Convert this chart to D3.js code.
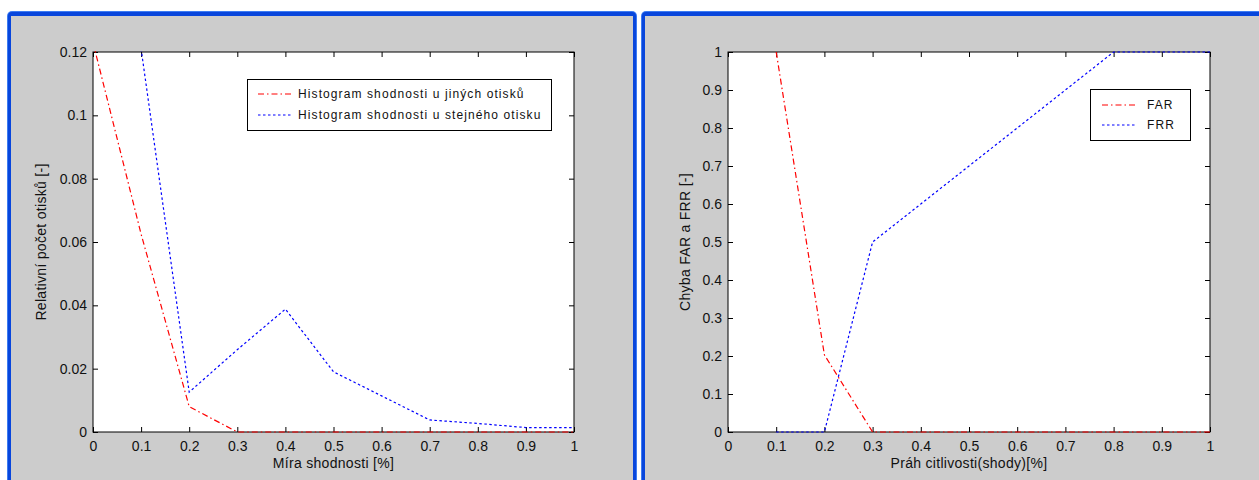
<!DOCTYPE html>
<html>
<head>
<meta charset="utf-8">
<script src="https://cdn.jsdelivr.net/npm/d3@7"></script>
<style>
  body { margin: 0; background: #fff; }
  svg { display: block; font-family: "Liberation Sans", Arial, sans-serif; }
  .tick text { font-size: 14px; fill: #111; }
  .axis-label { font-size: 14px; fill: #111; letter-spacing: 0.3px; }
  .legend text { font-size: 12px; fill: #111; letter-spacing: 1.1px; }
</style>
</head>
<body>
<svg id="chart" width="1259" height="480"></svg>
<script>
/* ---------- data ---------- */
const xTicks = [0, 0.1, 0.2, 0.3, 0.4, 0.5, 0.6, 0.7, 0.8, 0.9, 1];
const histTicksY = [0, 0.02, 0.04, 0.06, 0.08, 0.1, 0.12];
const errTicksY = [0, 0.1, 0.2, 0.3, 0.4, 0.5, 0.6, 0.7, 0.8, 0.9, 1];

// left: similarity histograms
const otherX = [0, 0.1, 0.2, 0.3, 0.4, 0.5, 0.6, 0.7, 0.8, 0.9, 1];
const otherPrints = [0.123, 0.0625, 0.008, 0, 0, 0, 0, 0, 0, 0, 0];
const sameX = [0.1, 0.2, 0.3, 0.4, 0.5, 0.6, 0.7, 0.8, 0.9, 1];
const samePrint = [0.121, 0.0126, 0.026, 0.0388, 0.019, 0.0114, 0.0038, 0.0027, 0.0014, 0.0014];

// right: error rates vs. threshold
const thresholdX = [0.1, 0.2, 0.3, 0.4, 0.5, 0.6, 0.7, 0.8, 0.9, 1];
const farValues = [1, 0.203, 0, 0, 0, 0, 0, 0, 0, 0];
const frrValues = [0, 0, 0.5, 0.6, 0.7, 0.8, 0.9, 1, 1, 1];

const RED_DASH = "6,3,1.5,3";
const BLUE_DOT = "2.5,2.5";

const svg = d3.select("#chart");

/* ---------- window frames ---------- */
function drawFrame(x, w) {
  const g = svg.append("g");
  g.append("rect").attr("x", x).attr("y", 11).attr("width", w).attr("height", 480)
    .attr("rx", 5).attr("fill", "#3d7cf2");
  g.append("rect").attr("x", x + 1).attr("y", 12).attr("width", w - 2).attr("height", 480)
    .attr("rx", 4).attr("fill", "#0846dc");
  g.append("rect").attr("x", x + 4).attr("y", 16).attr("width", w - 8).attr("height", 480)
    .attr("fill", "#cccccc");
}
drawFrame(7, 630);
drawFrame(641, 640);

/* ---------- one MATLAB-like axes ---------- */
function drawPanel(o) {
  const x = d3.scaleLinear().domain([0, 1]).range([o.x0, o.x1]);
  const y = d3.scaleLinear().domain([0, o.yMax]).range([o.y1, o.y0]);
  const g = svg.append("g");
  const fmt = (d) => String(+d.toFixed(2));

  g.append("rect")
    .attr("x", o.x0).attr("y", o.y0)
    .attr("width", o.x1 - o.x0).attr("height", o.y1 - o.y0)
    .attr("fill", "#fff");

  const axes = [
    [d3.axisBottom(x).tickValues(xTicks).tickFormat(fmt).tickPadding(9), `translate(0,${o.y1})`],
    [d3.axisTop(x).tickValues(xTicks).tickFormat(""), `translate(0,${o.y0})`],
    [d3.axisLeft(y).tickValues(o.yTicks).tickFormat(fmt).tickPadding(6), `translate(${o.x0},0)`],
    [d3.axisRight(y).tickValues(o.yTicks).tickFormat(""), `translate(${o.x1},0)`],
  ];
  axes.forEach(([axis, tr]) => {
    const a = g.append("g").attr("transform", tr)
      .call(axis.tickSizeInner(-5).tickSizeOuter(0));
    a.select(".domain").remove();
    a.selectAll("line").attr("stroke", "#000");
    a.selectAll("text").attr("font-size", null).attr("font-family", null);
  });

  g.append("rect")
    .attr("x", o.x0).attr("y", o.y0)
    .attr("width", o.x1 - o.x0).attr("height", o.y1 - o.y0)
    .attr("fill", "none").attr("stroke", "#000");

  const clipId = "clip" + o.x0;
  svg.append("clipPath").attr("id", clipId).append("rect")
    .attr("x", o.x0 - 1).attr("y", o.y0 - 1)
    .attr("width", o.x1 - o.x0 + 2).attr("height", o.y1 - o.y0 + 2);

  const line = d3.line().x((d) => x(d[0])).y((d) => y(d[1]));
  o.series.forEach((s) => {
    g.append("path")
      .datum(d3.zip(s.x, s.y))
      .attr("clip-path", `url(#${clipId})`)
      .attr("d", line)
      .attr("fill", "none")
      .style("stroke", s.color)
      .attr("stroke-width", 1.2)
      .attr("stroke-dasharray", s.dash);
  });

  g.append("text").attr("class", "axis-label")
    .attr("x", (o.x0 + o.x1) / 2).attr("y", 468)
    .attr("text-anchor", "middle").text(o.xLabel);
  g.append("text").attr("class", "axis-label")
    .attr("transform", `translate(${o.yLabelX},242) rotate(-90)`)
    .attr("text-anchor", "middle").text(o.yLabel);

  /* --- legend --- */
  const L = o.legend;
  const lg = g.append("g").attr("class", "legend");
  lg.append("rect")
    .attr("x", L.x + 0.5).attr("y", L.y + 0.5)
    .attr("width", L.w).attr("height", L.h)
    .attr("fill", "#fff").attr("stroke", "#000");
  o.series.forEach((s, i) => {
    const cy = L.rowY[i];
    lg.append("path")
      .attr("d", `M${L.lineX[0]},${cy}H${L.lineX[1]}`)
      .attr("fill", "none")
      .style("stroke", s.color)
      .attr("stroke-width", 1.2)
      .attr("stroke-dasharray", s.dash);
    lg.append("text")
      .attr("x", L.textX).attr("y", cy).attr("dy", "0.36em")
      .text(s.name);
  });
}

drawPanel({
  x0: 93, x1: 574, y0: 52, y1: 432,
  yMax: 0.12, yTicks: histTicksY,
  xLabel: "Míra shodnosti [%]",
  yLabel: "Relativní počet otisků [-]", yLabelX: 46,
  series: [
    { name: "Histogram shodnosti u jiných otisků", x: otherX, y: otherPrints, color: "#ff0000", dash: RED_DASH },
    { name: "Histogram shodnosti u stejného otisku", x: sameX, y: samePrint, color: "#0000ff", dash: BLUE_DOT },
  ],
  legend: { x: 247, y: 79, w: 304, h: 51, rowY: [94, 115], lineX: [258, 293], textX: 298 },
});

drawPanel({
  x0: 728, x1: 1210, y0: 52, y1: 432,
  yMax: 1, yTicks: errTicksY,
  xLabel: "Práh citlivosti(shody)[%]",
  yLabel: "Chyba FAR a FRR [-]", yLabelX: 690,
  series: [
    { name: "FAR", x: thresholdX, y: farValues, color: "#ff0000", dash: RED_DASH },
    { name: "FRR", x: thresholdX, y: frrValues, color: "#0000ff", dash: BLUE_DOT },
  ],
  legend: { x: 1090, y: 89, w: 100, h: 51, rowY: [105, 125], lineX: [1102, 1137], textX: 1147 },
});
</script>
</body>
</html>
